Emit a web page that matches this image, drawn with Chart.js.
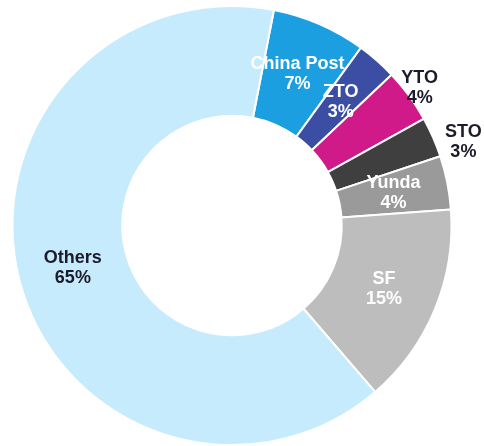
<!DOCTYPE html>
<html>
<head>
<meta charset="utf-8">
<script src="https://cdn.jsdelivr.net/npm/chart.js@4"></script>
<style>
  body { margin: 0; background: #fff; }
  #wrap { width: 484px; height: 446px; }
</style>
</head>
<body>
<div id="wrap"><canvas id="share-chart" width="484" height="446"></canvas></div>
<script>
// market share, clockwise from top
const companies = ['China Post', 'ZTO', 'YTO', 'STO', 'Yunda', 'SF', 'Others'];
const shares = [7, 3, 4, 3, 4, 15, 65];
const colors = ['#1c9fe0', '#3b4ea4', '#d11a89', '#3f3f3f', '#9a9a9a', '#bdbdbd', '#c6ebfc'];
const labelColors = ['#ffffff', '#ffffff', '#1b1b2b', '#1b1b2b', '#ffffff', '#ffffff', '#1b1b2b'];

// draws the name + percent on each slice
const sliceLabels = {
    id: 'sliceLabels',
    afterDatasetsDraw(chart, args, opts) {
        const ctx = chart.ctx;
        const meta = chart.getDatasetMeta(0);
        ctx.save();
        ctx.font = 'bold 18px "Liberation Sans", Arial, sans-serif';
        ctx.textAlign = 'center';
        ctx.textBaseline = 'middle';
        meta.data.forEach((arc, i) => {
            const p = arc.getProps(['x', 'y', 'startAngle', 'endAngle', 'innerRadius', 'outerRadius'], true);
            const tweak = opts.outside[companies[i]];
            let mid = (p.startAngle + p.endAngle) / 2;
            let r = (p.innerRadius + p.outerRadius) / 2;
            if (tweak) {
                r = p.outerRadius * tweak.r;
                mid += tweak.shift * Math.PI / 180;
            }
            const x = p.x + Math.cos(mid) * r;
            const y = p.y + Math.sin(mid) * r;
            ctx.fillStyle = labelColors[i];
            ctx.fillText(companies[i], x, y - 10);
            ctx.fillText(shares[i] + '%', x, y + 10);
        });
        ctx.restore();
    }
};

new Chart(document.getElementById('share-chart'), {
    type: 'doughnut',
    data: {
        labels: companies,
        datasets: [{
            data: shares,
            backgroundColor: colors,
            borderColor: '#ffffff',
            borderWidth: 2
        }]
    },
    options: {
        responsive: false,
        animation: false,
        rotation: 11,
        cutout: '50%',
        layout: { padding: { top: 5, bottom: 0, left: 0, right: 20 } },
        events: [],
        plugins: {
            legend: { display: false },
            tooltip: { enabled: false },
            sliceLabels: {
                outside: {
                    'YTO': { r: 1.06, shift: 0 },
                    'STO': { r: 1.12, shift: 4 }
                }
            }
        }
    },
    plugins: [sliceLabels]
});
</script>
</body>
</html>
